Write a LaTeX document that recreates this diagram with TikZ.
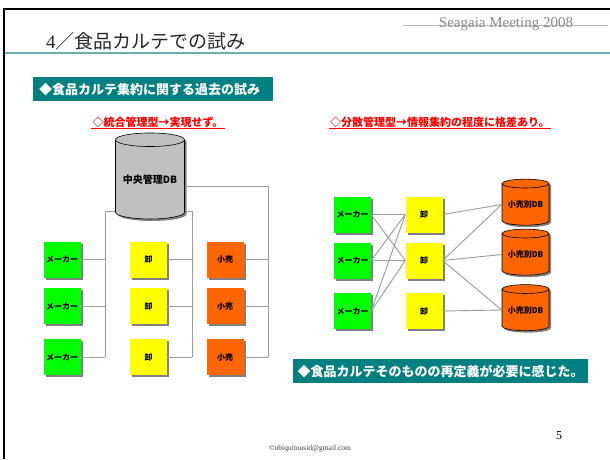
\documentclass[tikz,border=0pt]{standalone}
\usepackage{fontspec}
\setmainfont{Liberation Serif}
\newfontfamily\jp{Noto Sans CJK JP}
\usetikzlibrary{shapes.geometric,shadows}
\definecolor{teal1}{HTML}{008080}
\definecolor{tealline}{HTML}{6AAEAE}
\definecolor{lime1}{HTML}{00FF00}
\definecolor{yel1}{HTML}{FFFF00}
\definecolor{ora1}{HTML}{FF6600}
\definecolor{dbgray}{HTML}{C0C0C0}
\definecolor{connc}{HTML}{9A9A9A}
\definecolor{shad}{HTML}{808080}
\definecolor{hdrgray}{HTML}{8A8A8A}
\begin{document}
\begin{tikzpicture}[x=1pt,y=-1pt,
  shadowed/.style={drop shadow={shadow xshift=2pt,shadow yshift=-2pt,fill=shad,opacity=1}},
  box/.style={rectangle,minimum width=37pt,minimum height=36pt,inner sep=0pt,
    font=\jp\bfseries\fontsize{8}{9}\selectfont,shadowed},
  maker/.style={box,fill=lime1},
  whole/.style={box,fill=yel1},
  retail/.style={box,fill=ora1},
  dbnode/.style={cylinder,shape border rotate=90,aspect=0.25,draw=black,line width=0.6pt,
    inner sep=0pt,shadowed},
  conn/.style={draw=connc,line width=0.9pt},
  tealbox/.style={fill=teal1,text=white,font=\jp\bfseries\fontsize{13}{15}\selectfont,
    minimum height=24pt,inner xsep=6pt,inner ysep=0pt},
  redsub/.style={text=red,font=\jp\bfseries\fontsize{11}{13}\selectfont,inner sep=1pt}
]
\useasboundingbox (0,0) rectangle (610,459);
\fill[white] (0,0) rectangle (610,459);
% frame
\draw[black,line width=2.5pt] (4,459) -- (4,9) -- (610,9);
\draw[tealline,line width=1.3pt] (5,53) -- (610,53);
% header
\draw[hdrgray!60,line width=0.8pt] (403,25) -- (608,25);
\node[anchor=base,text=hdrgray,font=\fontsize{15}{15}\selectfont,inner sep=0pt] (hdr) at (506,27) {Seagaia Meeting 2008};
\node[anchor=west,inner sep=0pt,text=black!85] (title) at (46,41)
  {\fontsize{19}{19}\selectfont 4\jp ／食品カルテでの試み};
% teal boxes
\node[tealbox,anchor=north west,text width=228pt,align=left] (tb1) at (33,77)
  {◆食品カルテ集約に関する過去の試み};
\node[tealbox,anchor=north west,minimum width=295pt,inner xsep=2pt] (tb2) at (293,359)
  {◆食品カルテそのものの再定義が必要に感じた。};
% red subtitles
\node[redsub] (s1) at (158,122) {◇統合管理型→実現せず。};
\node[redsub] (s2) at (440,122) {◇分散管理型→情報集約の程度に格差あり。};
\draw[red,line width=1.2pt] ([yshift=-2.5pt]s1.base west) -- ([yshift=-2.5pt]s1.base east);
\draw[red,line width=1.2pt] ([yshift=-2.5pt]s2.base west) -- ([yshift=-2.5pt]s2.base east);

% ---------- left diagram ----------
\node[dbnode,fill=dbgray,
  minimum width=69pt,minimum height=86pt,font=\jp\bfseries\fontsize{10}{12}\selectfont] (cdb) at (150,179.5) {中央管理DB};
\node[maker]  (m1) at (62,259.5) {メーカー};
\node[maker]  (m2) at (62,306)   {メーカー};
\node[maker]  (m3) at (62,357)   {メーカー};
\node[whole]  (o1) at (148.5,259.5) {卸};
\node[whole]  (o2) at (148.5,306)   {卸};
\node[whole]  (o3) at (148.5,357)   {卸};
\node[retail] (r1) at (225,259.5) {小売};
\node[retail] (r2) at (225,306)   {小売};
\node[retail] (r3) at (225,357)   {小売};
\coordinate (jl) at (105,211);
\coordinate (jm) at (192,211);
\coordinate (jr) at (268,186);
\draw[conn] (cdb.west |- jl) -| (m3.east -| jl);
\draw[conn] (cdb.east |- jm) -| (o3.east -| jm);
\draw[conn] (cdb.east |- jr) -| (r3.east -| jr);
\foreach \i in {1,2,3}{
  \draw[conn] (m\i.east) -- (m\i.east -| jl);
  \draw[conn] (o\i.east) -- (o\i.east -| jm);
  \draw[conn] (r\i.east) -- (r\i.east -| jr);
}

% ---------- right diagram ----------
\node[maker] (M1) at (352.5,214.5) {メーカー};
\node[maker] (M2) at (352.5,260.5) {メーカー};
\node[maker] (M3) at (352.5,311)   {メーカー};
\node[whole] (W1) at (424,214.5) {卸};
\node[whole] (W2) at (424,260.5) {卸};
\node[whole] (W3) at (424,311)   {卸};
\tikzset{rdb/.style={dbnode,fill=ora1,
  minimum width=47pt,minimum height=46pt,font=\jp\bfseries\fontsize{8}{9}\selectfont}}
\node[rdb] (D1) at (525.5,204.5) {小売別DB};
\node[rdb] (D2) at (525.5,254.5) {小売別DB};
\node[rdb] (D3) at (525.5,310)   {小売別DB};
\foreach \i in {1,2,3}{
  \draw[conn] (M\i.east) -- (W1.west);
  \draw[conn] (M\i.east) -- (W2.west);
}
\draw[conn] (W1.east) -- (D1.west);
\draw[conn] (W2.east) -- (D1.west);
\draw[conn] (W2.east) -- (D2.west);
\draw[conn] (W2.east) -- (D3.west);
\draw[conn] (W3.east) -- (D3.west);

% footer
\node[font=\fontsize{12}{12}\selectfont] (pg) at (559,436) {5};
\node[font=\fontsize{7.5}{8}\selectfont,text=black!75] (mail) at (310,449) {©ubiquitousid@gmail.com};
\end{tikzpicture}
\end{document}
